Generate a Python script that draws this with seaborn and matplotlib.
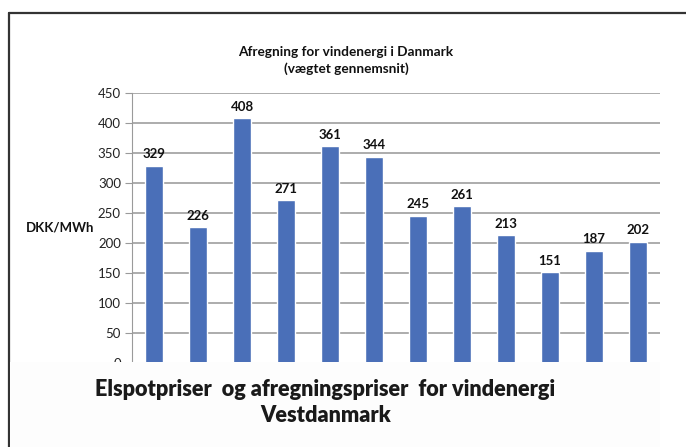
import matplotlib
matplotlib.use("Agg")
import matplotlib.pyplot as plt
import seaborn as sns
import pandas as pd
from matplotlib.patches import Rectangle
from matplotlib.lines import Line2D

# Data (x labels are hidden under the caption box)
perioder = ['1', '2', '3', '4', '5', '6', '7', '8', '9', '10', '11', '12']
priser = [329, 226, 408, 271, 361, 344, 245, 261, 213, 151, 187, 202]
y_ticks = [0, 50, 100, 150, 200, 250, 300, 350, 400, 450]

dados = pd.DataFrame({'periode': perioder, 'pris': priser})

sns.set_style('white')
plt.rcParams['font.family'] = ['Lato', 'DejaVu Sans']

fig = plt.figure(figsize=(6.86, 4.47), dpi=100)
ax = fig.add_axes([132 / 686, 1 - 363 / 447, 528 / 686, 270 / 447])

sns.barplot(data=dados, x='periode', y='pris', color='#4a6fb8', width=0.43,
            saturation=1, ax=ax)
ax.bar_label(ax.containers[0], fmt='%d', padding=4, fontsize=9.5,
             fontweight='bold', color='#111111')

ax.set_ylim(0, 450)
ax.set_yticks(y_ticks)
ax.set_xlim(-0.5, len(perioder) - 0.5)
ax.yaxis.grid(True, color='#a6a6a6', linewidth=1.3)
ax.set_axisbelow(True)
for s in ['top', 'right', 'bottom']:
    ax.spines[s].set_visible(False)
ax.spines['left'].set_color('#9a9a9a')
ax.tick_params(axis='y', length=5, color='#9a9a9a', labelsize=9.5,
               labelcolor='#222222', pad=3, left=True)
ax.tick_params(axis='x', length=0, labelbottom=False)
ax.set_xlabel('')
ax.set_ylabel('')

fig.text(60 / 686, 1 - 227 / 447, 'DKK/MWh', ha='center', va='center',
         fontsize=9.5, fontweight='bold', color='#111111')
fig.text(346 / 686, 1 - 52 / 447, 'Afregning for vindenergi i Danmark',
         ha='center', va='center', fontsize=9.8, fontweight='bold', color='#111111')
fig.text(346 / 686, 1 - 69 / 447, '(vægtet gennemsnit)',
         ha='center', va='center', fontsize=9.8, fontweight='bold', color='#111111')

# frame of the original screenshot
fig.add_artist(Line2D([8.5 / 686, 1], [1 - 13 / 447, 1 - 13 / 447],
                      transform=fig.transFigure, color='#333333', linewidth=1.6))
fig.add_artist(Line2D([8.5 / 686, 8.5 / 686], [0, 1 - 13 / 447],
                      transform=fig.transFigure, color='#333333', linewidth=1.6))

# caption box pasted over the x axis
fig.add_artist(Rectangle((10 / 686, 0), 650 / 686, 85 / 447,
                         transform=fig.transFigure, facecolor='#fdfdfd',
                         edgecolor='none', zorder=5))
fig.text(325 / 686, 1 - 389 / 447, 'Elspotpriser  og afregningspriser  for vindenergi',
         ha='center', va='center', fontsize=15.6, fontweight='heavy',
         color='#1a1a1a', zorder=6)
fig.text(326 / 686, 1 - 415 / 447, 'Vestdanmark', ha='center', va='center',
         fontsize=15.6, fontweight='heavy', color='#1a1a1a', zorder=6)

fig.savefig('out.png', dpi=100)
